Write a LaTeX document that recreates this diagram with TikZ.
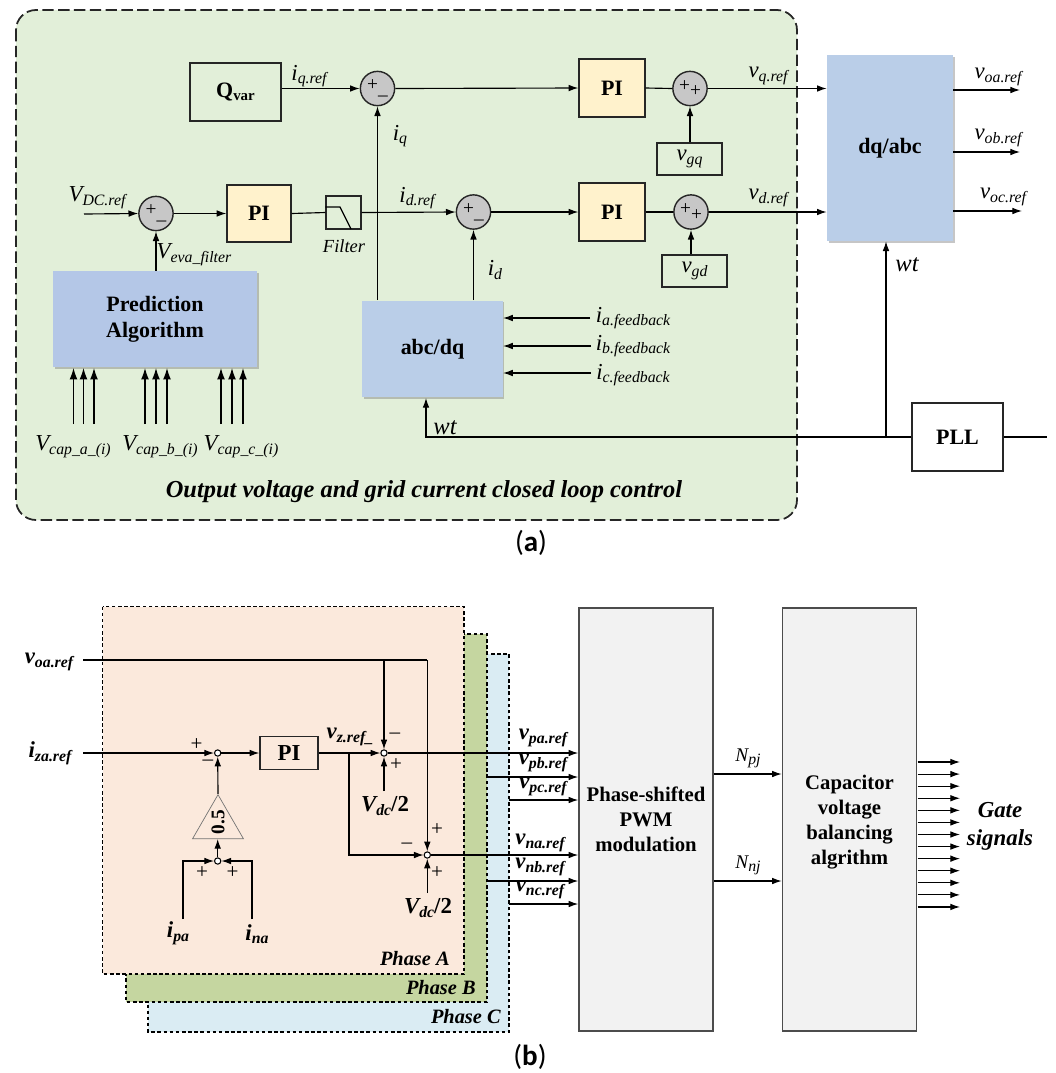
\documentclass[tikz,border=0pt]{standalone}
\usepackage{fontspec}
\usepackage{tikz}
\usetikzlibrary{arrows.meta,shadows,shapes.geometric}
\setmainfont{Liberation Serif}
\newfontfamily\capfont{Carlito}
\definecolor{loopgreen}{HTML}{E2EFD9}
\definecolor{piyellow}{HTML}{FFF2CC}
\definecolor{predblue}{HTML}{B4C7E7}
\definecolor{convblue}{HTML}{BACEE8}
\definecolor{phasea}{HTML}{FBE9DC}
\definecolor{phaseb}{HTML}{C5D6A0}
\definecolor{phasec}{HTML}{DAECF3}
\definecolor{modgray}{HTML}{F2F2F2}
\newcommand{\sigl}[2]{\textit{#1\raisebox{-0.35ex}{\fontsize{9}{9}\selectfont #2}}}
\tikzset{
  sig/.style={line width=0.65pt,-{Latex[length=5.5pt,width=3.8pt]}},
  capsig/.style={line width=0.65pt,-{Latex[length=6.5pt,width=4.5pt]}},
  wire/.style={line width=0.65pt},
  box/.style={draw=black!85,line width=0.8pt,inner sep=0pt,align=center},
  pibox/.style={box,fill=piyellow,font=\fontsize{12.5}{14}\selectfont\bfseries},
  convbox/.style={inner sep=0pt,align=center,drop shadow={shadow xshift=1pt,shadow yshift=-1pt,opacity=0.45},font=\fontsize{12.5}{15}\selectfont\bfseries},
  modbox/.style={draw=black!70,line width=0.9pt,fill=modgray,inner sep=0pt,align=center,font=\fontsize{11.8}{14.2}\selectfont\bfseries},
  sumnode/.style={circle,draw=black!85,line width=0.8pt,fill=black!22,minimum size=19.5pt,inner sep=0pt,font=\fontsize{11}{11}\selectfont},
  junction/.style={circle,draw=black,line width=0.6pt,fill=white,minimum size=3.6pt,inner sep=0pt},
  lab/.style={inner sep=0pt,font=\fontsize{13}{15}\selectfont},
  blab/.style={inner sep=0pt,font=\fontsize{13}{15}\selectfont\bfseries},
  sign/.style={inner sep=0pt,font=\fontsize{12}{12}\selectfont},
  phase/.style={draw=black,line width=1pt,dash pattern=on 2pt off 1.5pt},
  phaselab/.style={inner sep=0pt,anchor=east,font=\fontsize{11.6}{14}\selectfont\bfseries\itshape}
}
\begin{document}
\begin{tikzpicture}[x=0.02cm,y=-0.02cm]
\useasboundingbox (0,0) rectangle (1056,1073);
% (a) outer loop
\draw[black!85,line width=1pt,dash pattern=on 6.5pt off 2.5pt,fill=loopgreen,rounded corners=0.4cm] (16,10) rectangle (797,520);
\node (qvar) [box,minimum width=1.82cm,minimum height=1.16cm,font=\fontsize{12.5}{15}\selectfont\bfseries] at (235.5,92) {Q\raisebox{-0.3ex}{\fontsize{8.5}{10}\selectfont var}};
\node (sumiq) [sumnode] at (377.5,88.5) {+\raisebox{-0.5ex}{\_}\hspace{3pt}};
\node (sumvdc) [sumnode] at (156,213.5) {+\raisebox{-0.5ex}{\_}\hspace{3pt}};
\node (pidc) [pibox,minimum width=1.28cm,minimum height=1.14cm] at (259,213.5) {PI};
\node (filter) [draw=black!85,line width=0.6pt,inner sep=0pt,minimum width=0.7cm,minimum height=0.66cm] at (343.5,212.5) {};
\node (sumid) [sumnode] at (473.5,212) {+\raisebox{-0.5ex}{\_}\hspace{3pt}};
\node (piq) [pibox,minimum width=1.32cm,minimum height=1.16cm] at (612,88) {PI};
\node (pid) [pibox,minimum width=1.32cm,minimum height=1.16cm] at (612,212) {PI};
\node (sumvq) [sumnode] at (690,88.5) {+\raisebox{-0.5ex}{+}\hspace{2pt}};
\node (sumvd) [sumnode] at (691,212) {+\raisebox{-0.7ex}{+}\hspace{2pt}};
\node (vgq) [box,minimum width=1.3cm,minimum height=0.64cm,font=\fontsize{13}{15}\selectfont] at (689.5,159) {\sigl{v}{gq}};
\node (vgd) [box,minimum width=1.3cm,minimum height=0.64cm,font=\fontsize{13}{15}\selectfont] at (694.5,271) {\sigl{v}{gd}};
\node (dqabc) [convbox,fill=convblue,minimum width=2.52cm,minimum height=3.72cm] at (890,148) {dq/abc};
\node (pred) [convbox,fill=predblue,minimum width=4.08cm,minimum height=1.92cm] at (155,319) {Prediction\\Algorithm};
\node (abcdq) [convbox,fill=convblue,minimum width=2.81cm,minimum height=1.94cm] at (432.5,349) {abc/dq};
\node (pll) [box,minimum width=1.82cm,minimum height=1.36cm,font=\fontsize{12.5}{15}\selectfont\bfseries] at (957.5,437) {PLL};
% free ends
\coordinate (vdcin) at (84,214);
\coordinate (ia) at (590,318);
\coordinate (ib) at (591,346);
\coordinate (ic) at (591,373);
\coordinate (voa) at (1020,90);
\coordinate (vob) at (1020,152);
\coordinate (voc) at (1022,211);
\coordinate (pllout) at (1047,437);
\coordinate (wtup) at (886,437);
\coordinate (wtleft) at (426,437);
\coordinate (wtin) at (426,398);
% connectors of (a)
\draw[sig] (qvar.east |- sumiq.west) -- (sumiq.west);
\draw[sig] (vdcin) -- (sumvdc.west);
\draw[sig] (sumvdc.east) -- (pidc.west);
\draw[wire] (pidc.east) -- (filter.west);
\draw[wire] (filter.west |- 0,207) -- (340,207) -- (351,229);
\draw[sig] (filter.east) -- (sumid.west);
\draw[sig] (sumiq.east) -- (piq.west);
\draw[sig] (sumid.east) -- (pid.west);
\draw[wire] (piq.east) -- (sumvq.west);
\draw[wire] (pid.east) -- (sumvd.west);
\draw[sig] (sumvq.east) -- (dqabc.west |- sumvq.east);
\draw[sig] (sumvd.east) -- (dqabc.west |- sumvd.east);
\draw[sig] (vgq.north -| sumvq.south) -- (sumvq.south);
\draw[sig] (vgd.north -| sumvd.south) -- (sumvd.south);
\draw[sig] (sumiq.south |- abcdq.north) -- (sumiq.south);
\draw[sig] (sumid.south |- abcdq.north) -- (sumid.south);
\draw[sig] (pred.north -| sumvdc.south) -- (sumvdc.south);
\foreach \xa in {73.5,83.5,94,145,156,167,221,232,243}
  \draw[capsig] (\xa,424) -- (\xa,368);
\draw[sig] (ia) -- (abcdq.east |- ia);
\draw[sig] (ib) -- (abcdq.east |- ib);
\draw[sig] (ic) -- (abcdq.east |- ic);
\draw[sig] (dqabc.east |- voa) -- (voa);
\draw[sig] (dqabc.east |- vob) -- (vob);
\draw[sig] (dqabc.east |- voc) -- (voc);
\draw[sig] (pll.west) -- (wtleft) -- (wtin);
\draw[sig] (wtup) -- (wtup |- dqabc.south);
\draw[wire] (pll.east) -- (pllout);
% labels of (a)
\node (liqref) [lab] at (309,76) {\sigl{i}{q.ref}};
\node (liq) [lab] at (400,136) {\sigl{i}{q}};
\node (lvdcref) [lab] at (97,198) {\sigl{V}{DC.ref}};
\node (lveva) [lab] at (194,255) {\sigl{V}{eva\_filter}};
\node (lfilter) [inner sep=0pt,font=\fontsize{10.5}{12}\selectfont\itshape] at (344,246) {Filter};
\node (lidref) [lab] at (417,198) {\sigl{i}{d.ref}};
\node (lid) [lab] at (495,270) {\sigl{i}{d}};
\node (lvqref) [lab] at (768,76) {\sigl{v}{q.ref}};
\node (lvdref) [lab] at (768,198) {\sigl{v}{d.ref}};
\node (lvoa) [lab] at (998,77) {\sigl{v}{oa.ref}};
\node (lvob) [lab] at (998,138) {\sigl{v}{ob.ref}};
\node (lvoc) [lab] at (1003,197) {\sigl{v}{oc.ref}};
\node (lwtr) [lab,font=\fontsize{14}{15}\selectfont\itshape] at (907,265) {wt};
\node (lwtl) [lab,font=\fontsize{14}{15}\selectfont\itshape] at (445,428) {wt};
\node (lia) [lab] at (633,318) {\sigl{i}{a.feedback}};
\node (lib) [lab] at (633,346) {\sigl{i}{b.feedback}};
\node (lic) [lab] at (633,375) {\sigl{i}{c.feedback}};
\node (lcapa) [lab] at (73,447) {\sigl{V}{cap\_a\_(i)}};
\node (lcapb) [lab] at (160,447) {\sigl{V}{cap\_b\_(i)}};
\node (lcapc) [lab] at (241,447) {\sigl{V}{cap\_c\_(i)}};
\node (ltitle) [inner sep=0pt,font=\fontsize{13.9}{15}\selectfont\bfseries\itshape] at (424,492) {Output voltage and grid current closed loop control};
\node (capa) [inner sep=0pt,font=\fontsize{16.5}{18}\selectfont\capfont] at (531,543) {(\textbf{a})};
% (b) phases
\draw[phase,fill=phasec] (148,654) rectangle (509,1032);
\draw[phase,fill=phaseb] (126,634) rectangle (487,1002);
\draw[phase,fill=phasea] (102.5,606.5) rectangle (464,974);
\node (lpa) [phaselab] at (450,959) {Phase A};
\node (lpb) [phaselab] at (476,988) {Phase B};
\node (lpc) [phaselab] at (501,1017) {Phase C};
\node (pwm) [modbox,minimum width=2.68cm,minimum height=8.46cm] at (646,819.5) {Phase-shifted\\PWM\\modulation};
\node (cvb) [modbox,minimum width=2.68cm,minimum height=8.46cm] at (849.5,819.5) {};
\node (lcvb) [inner sep=0pt,align=center,font=\fontsize{11.8}{14.2}\selectfont\bfseries] at (849.5,822) {Capacitor\\voltage\\balancing\\algrithm};
\node (piz) [box,minimum width=1.16cm,minimum height=0.66cm,font=\fontsize{13}{15}\selectfont\bfseries] at (289,753) {PI};
\node (jz) [junction] at (217.7,753) {};
\node (jp) [junction] at (384,753) {};
\node (jn) [junction] at (427.3,855) {};
\node (ji) [junction] at (217.7,861) {};
\node (gain) [draw=black!55,line width=0.4pt,isosceles triangle,isosceles triangle apex angle=60,shape border rotate=90,minimum height=0.88cm,inner sep=0pt] at (218,824) {};
\node (lgain) [inner sep=0pt,rotate=90,font=\fontsize{11}{12}\selectfont\bfseries] at (218,822) {0.5};
% free ends
\coordinate (voin) at (83,660);
\coordinate (izin) at (83,753);
\coordinate (ipin) at (183,919);
\coordinate (inin) at (252,919);
\coordinate (vdcp) at (384,791);
\coordinate (vdcn) at (427.3,893);
\coordinate (vpb) at (487,777);
\coordinate (vpc) at (509,800);
\coordinate (vnb) at (487,881);
\coordinate (vnc) at (509,904);
% connectors of (b)
\draw[wire] (voin) -- (jn |- voin);
\draw[sig] (jn |- voin) -- (jn.north);
\draw[sig] (jp |- voin) -- (jp.north);
\draw[sig] (vdcp) -- (jp.south);
\draw[sig] (vdcn) -- (jn.south);
\draw[sig] (izin) -- (jz.west);
\draw[sig] (jz.east) -- (piz.west);
\draw[sig] (piz.east) -- (jp.west);
\draw[sig] (349,753) -- (349,855) -- (jn.west);
\draw[sig] (jp.east) -- (pwm.west |- jp);
\draw[sig] (jn.east) -- (pwm.west |- jn);
\draw[sig] (vpb) -- (pwm.west |- vpb);
\draw[sig] (vpc) -- (pwm.west |- vpc);
\draw[sig] (vnb) -- (pwm.west |- vnb);
\draw[sig] (vnc) -- (pwm.west |- vnc);
\draw[sig] (gain.apex) -- (jz.south);
\draw[sig] (ji.north) -- (gain.south -| ji.north);
\draw[sig] (ipin) -- (ipin |- ji) -- (ji.west);
\draw[sig] (inin) -- (inin |- ji) -- (ji.east);
\draw[sig] (pwm.east |- 0,774) -- (cvb.west |- 0,774);
\draw[sig] (pwm.east |- 0,881) -- (cvb.west |- 0,881);
\foreach \n in {0,...,12}
  \draw[sig] (917.5,762+12.08*\n) -- (960,762+12.08*\n);
% labels of (b)
\node (lvoin) [blab] at (49,662) {\sigl{v}{oa.ref}};
\node (lizin) [blab] at (50,753) {\sigl{i}{za.ref}};
\node (lvz) [blab] at (350,737) {\sigl{v}{z.ref\_}};
\node (lipa) [blab] at (178,933) {\sigl{i}{pa}};
\node (lina) [blab] at (257,934) {\sigl{i}{na}};
\node (lvdcp) [blab] at (385,806) {\sigl{V}{dc}/2};
\node (lvdcn) [blab] at (428,908) {\sigl{V}{dc}/2};
\node (lvpa) [blab] at (543,738) {\sigl{v}{pa.ref}};
\node (lvpb) [blab] at (543,763) {\sigl{v}{pb.ref}};
\node (lvpc) [blab] at (543,787) {\sigl{v}{pc.ref}};
\node (lvna) [blab] at (540,843) {\sigl{v}{na.ref}};
\node (lvnb) [blab] at (540,867) {\sigl{v}{nb.ref}};
\node (lvnc) [blab] at (540,890) {\sigl{v}{nc.ref}};
\node (lnpj) [lab,font=\fontsize{11}{13}\selectfont] at (748,758) {\sigl{N}{pj}};
\node (lnnj) [lab,font=\fontsize{11}{13}\selectfont] at (748,865) {\sigl{N}{nj}};
\node (lgate) [inner sep=0pt,align=center,font=\fontsize{13}{16}\selectfont\bfseries\itshape] at (1000,826) {Gate\\signals};
\node (capb) [inner sep=0pt,font=\fontsize{16.5}{18}\selectfont\capfont] at (530,1057) {(\textbf{b})};
% signs
\node (s1) [sign] at (196.5,745) {+};
\node (s2) [sign] at (208,763) {--};
\node (s3) [sign] at (202,873) {+};
\node (s4) [sign] at (232.5,873) {+};
\node (s5) [sign] at (395,736) {--};
\node (s6) [sign] at (396,765) {+};
\node (s7) [sign] at (437,830) {+};
\node (s8) [sign] at (407,846) {--};
\node (s9) [sign] at (437,873) {+};
\end{tikzpicture}
\end{document}
